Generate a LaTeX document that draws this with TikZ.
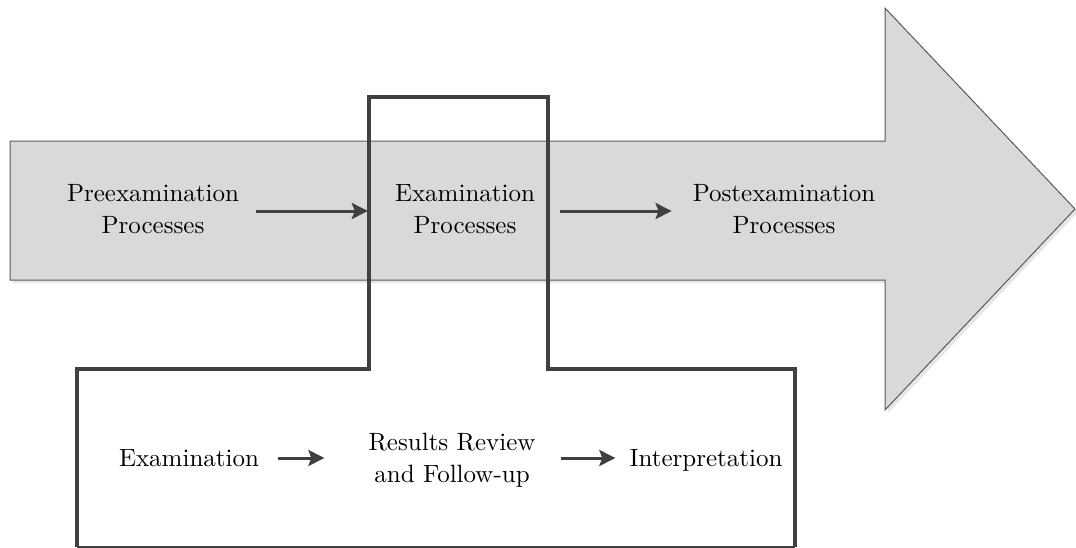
\documentclass[tikz,border=0pt]{standalone}
\usepackage{fontspec}
\newfontfamily\lmten{lmroman10-regular}[Extension=.otf]
\usetikzlibrary{arrows.meta}
\definecolor{arrowfill}{HTML}{D9D9D9}
\definecolor{arrowline}{HTML}{5A5A5A}
\definecolor{dark}{HTML}{404040}
\definecolor{shadowgray}{HTML}{E6E6E6}
\tikzset{
  lbl/.style={inner sep=0pt, align=center, text=black, font=\lmten\fontsize{25}{32.5}\selectfont},
  conn/.style={draw=dark, line width=3pt, -{Stealth[length=16pt,width=16pt,inset=3pt]}},
  outl/.style={draw=dark, line width=3.5pt, line join=miter},
  outlshadow/.style={draw=shadowgray, line width=3.5pt},
}
\begin{document}
\begin{tikzpicture}[x=1pt,y=-1pt]
\useasboundingbox (0,0) rectangle (1076,547);
% big arrow shadow
\fill[shadowgray, shift={(3,3)}] (10,141) -- (885,141) -- (885,8) -- (1075,209) -- (885,410) -- (885,280) -- (10,280) -- cycle;
% big arrow
\filldraw[fill=arrowfill, draw=arrowline, line width=1pt] (10,141) -- (885,141) -- (885,8) -- (1075,209) -- (885,410) -- (885,280) -- (10,280) -- cycle;
% outline coordinates
\coordinate (oa) at (77,547);
\coordinate (ob) at (77,369);
\coordinate (oc) at (369,369);
\coordinate (od) at (369,97);
\coordinate (oe) at (548,97);
\coordinate (of) at (548,369);
\coordinate (og) at (795,369);
\coordinate (oh) at (795,547);
% outline shadow
\draw[outlshadow, shift={(3.5,3.5)}] (oa) -- (ob) -- (oc) -- (od) -- (oe) -- (of) -- (og) -- (oh);
% outline
\draw[outl] (oa) -- (ob) -- (oc) -- (od) -- (oe) -- (of) -- (og) -- (oh);
\draw[draw=dark, line width=1.5pt] (oa) -- (oh);
% top labels
\node[lbl] (pre) at (153,209) {Preexamination\\Processes};
\node[lbl] (exam) at (465,209) {Examination\\Processes};
\node[lbl] (post) at (784,209) {Postexamination\\Processes};
% bottom labels
\node[lbl, anchor=base] (ex) at (189,466) {Examination};
\node[lbl] (rr) at (452,460) {Results Review\\and Follow-up};
\node[lbl, anchor=base] (interp) at (706,466) {Interpretation};
% connector end points
\coordinate (rrw) at ([xshift=-44pt,yshift=2pt]rr.west);
\coordinate (rre) at ([xshift=25pt,yshift=2pt]rr.east);
% connectors
\draw[conn] ([xshift=17pt,yshift=-2pt]pre.east) -- ([xshift=-27pt,yshift=-2pt]exam.west);
\draw[conn] ([xshift=25pt,yshift=-2pt]exam.east) -- ([xshift=-21pt,yshift=-2pt]post.west);
\draw[conn] ([xshift=19pt]ex.east |- rrw) -- (rrw);
\draw[conn] (rre) -- ([xshift=-14pt]interp.west |- rre);
\end{tikzpicture}
\end{document}
